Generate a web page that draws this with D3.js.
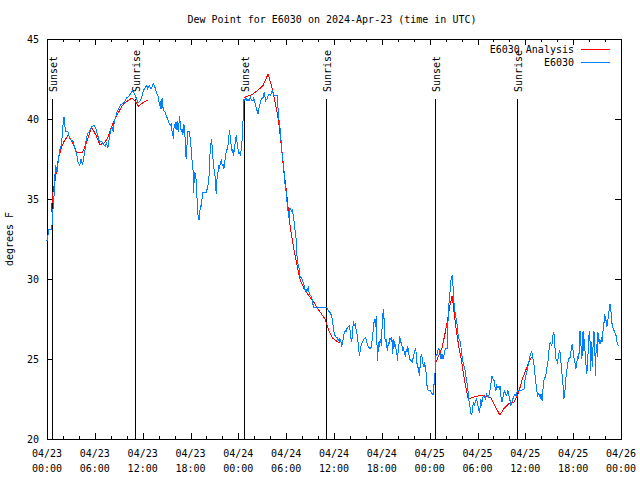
<!DOCTYPE html>
<html><head><meta charset="utf-8">
<script src="https://cdn.jsdelivr.net/npm/d3@7/dist/d3.min.js"></script>
<style>
body{margin:0;background:#fff}
svg text{font-family:"DejaVu Sans Mono","Liberation Mono",monospace;font-size:10px;fill:#000}
</style>
</head><body>
<svg id="chart" width="640" height="480"></svg>
<script>
const chartTitle = "Dew Point for E6030 on 2024-Apr-23 (time in UTC)";
const yAxisLabel = "degrees F";
const seriesNames = ["E6030 Analysis", "E6030"];
const startTime = "2024-04-23T00:00:00Z";
const spanHours = 72;
const yTicks = [20, 25, 30, 35, 40, 45];
const eventLabels = ["Sunset", "Sunrise", "Sunset", "Sunrise", "Sunset", "Sunrise"];
const eventHours = [0.66, 11.08, 24.75, 35.09, 48.71, 58.99];

// Observed dew point (hours since start, degrees F)
const obsHours = [0.0,0.25,0.59,0.76,0.88,1.0,1.09,1.26,1.43,1.6,1.8,1.93,2.06,2.14,2.22,2.35,2.64,2.85,3.27,3.52,3.69,3.9,4.11,4.28,4.45,4.62,4.78,4.95,5.12,5.29,5.58,5.88,6.13,6.3,6.55,6.84,7.05,7.3,7.47,7.64,7.8,7.97,8.14,8.31,8.43,8.6,8.81,9.06,9.27,9.57,9.78,9.99,10.24,10.49,10.74,10.95,11.16,11.41,11.66,11.91,
12.09,12.34,12.5,12.63,12.84,13.05,13.17,13.34,13.47,13.59,13.76,13.89,14.01,14.1,14.18,14.31,14.43,14.52,14.64,14.85,14.94,15.15,15.27,15.44,15.57,15.69,15.78,15.86,15.94,16.11,16.2,16.32,16.45,16.53,16.62,16.7,16.83,16.95,17.04,17.16,17.29,17.37,17.46,17.58,17.67,17.88,17.96,18.09,18.17,18.3,18.38,18.51,18.63,18.72,18.8,18.88,18.97,19.14,19.22,19.3,19.39,19.56,19.97,20.18,20.31,20.4,20.52,20.65,20.73,20.82,20.94,21.07,21.15,21.24,21.32,21.45,21.57,21.65,21.74,21.86,21.99,22.07,22.2,22.28,22.41,22.49,22.62,22.74,22.83,22.91,23.0,23.12,23.25,23.33,23.41,23.54,23.66,23.75,23.83,23.96,24.08,24.17,24.29,24.38,24.5,24.58,24.62,
24.8,24.92,25.09,25.22,25.34,25.51,25.64,25.85,25.93,26.06,26.18,26.35,26.48,26.6,26.77,26.9,27.11,27.23,27.32,27.44,27.61,27.74,27.86,28.03,28.16,28.28,28.37,28.49,28.7,28.87,28.99,29.08,29.21,29.29,29.42,29.5,29.62,29.75,29.83,29.96,30.04,30.17,30.25,30.38,30.46,30.59,30.67,30.8,30.88,31.01,31.09,31.22,31.3,31.39,31.51,31.64,31.72,31.85,31.97,32.14,32.27,32.39,32.48,32.56,32.69,32.77,32.9,33.07,33.19,33.32,33.4,35.08,35.29,
35.5,35.71,35.84,35.92,36.0,36.13,36.26,36.42,36.55,36.67,36.76,36.84,36.97,37.09,37.18,37.26,37.39,37.51,37.6,37.81,37.93,38.02,38.1,38.23,38.31,38.44,38.52,38.65,38.77,38.86,38.98,39.07,39.19,39.28,39.4,39.53,39.7,39.82,39.95,40.03,40.12,40.24,40.37,40.54,40.66,40.75,40.83,40.95,41.04,41.12,41.21,41.29,41.37,41.46,41.54,41.63,41.71,41.79,41.88,41.96,42.05,42.13,42.21,42.3,42.38,42.47,42.55,42.63,42.72,42.8,42.88,42.97,43.05,43.18,43.26,43.35,43.43,43.51,43.6,43.68,43.81,43.89,43.98,44.06,44.14,44.23,44.31,44.4,44.52,44.65,44.73,44.82,44.94,45.07,45.15,45.23,45.32,45.4,45.49,45.65,45.82,45.99,46.12,46.2,46.28,46.37,46.49,46.62,46.7,46.79,46.87,46.96,47.04,47.16,47.29,47.37,47.46,47.54,47.63,47.71,47.88,48.09,48.21,48.34,48.42,48.51,48.59,48.68,48.76,
48.8,48.89,49.01,49.14,49.26,49.35,49.43,49.56,49.68,49.77,49.89,50.02,50.19,50.27,50.4,50.52,50.65,50.73,50.82,50.9,50.99,51.07,51.15,51.24,51.36,51.45,51.53,51.66,51.78,51.87,51.95,52.08,52.2,52.29,52.41,52.5,52.62,52.71,52.79,52.87,52.96,53.04,53.13,53.21,53.33,53.42,53.55,53.63,53.75,53.88,53.96,54.05,54.17,54.26,54.34,54.43,54.51,54.59,54.68,54.8,54.93,55.01,55.14,55.22,55.35,55.43,55.56,55.64,55.73,55.81,55.89,55.98,56.06,56.15,56.23,56.31,56.4,56.48,56.57,56.65,56.73,56.82,56.9,56.99,57.07,57.15,57.24,57.32,57.41,57.53,57.66,57.74,57.82,57.95,58.08,58.16,58.24,58.37,58.5,58.58,58.71,58.83,58.92,59.0,59.42,
59.84,59.92,60.05,60.17,60.26,60.34,60.47,60.59,60.68,60.76,60.89,60.97,61.1,61.22,61.31,61.43,61.52,61.64,61.77,61.85,61.94,62.02,62.11,62.19,62.27,62.36,62.48,62.57,62.69,62.78,62.9,62.99,63.11,63.2,63.32,63.41,63.49,63.57,63.66,63.74,63.83,63.95,64.04,64.12,64.25,64.33,64.41,64.5,64.58,64.67,64.75,64.83,64.92,65.0,65.08,65.17,65.29,65.38,65.5,65.59,65.71,65.8,65.88,65.97,66.05,66.13,66.26,66.34,66.43,66.51,66.6,66.68,66.76,66.85,66.93,67.01,67.1,67.18,67.27,67.35,67.43,67.52,67.6,67.69,67.77,67.85,67.94,68.02,68.11,68.19,68.27,68.36,68.44,68.53,68.61,68.69,68.78,68.86,68.95,69.03,69.11,69.2,69.28,69.36,69.45,69.53,69.62,69.7,69.78,69.87,69.95,70.04,70.12,70.2,70.29,70.37,70.46,70.54,70.62,70.71,70.79,70.88,70.96,71.04,71.13,71.21,71.3,71.38,71.46,71.55,71.67,71.8];
const obsValues = [32.4,33.1,33.1,34.4,35.2,36.5,37.1,36.7,37.5,38.1,38.4,39.0,40.0,40.1,39.6,39.2,39.2,38.75,38.6,38.1,37.9,37.3,37.1,37.5,37.1,37.6,38.1,38.85,39.1,39.2,39.5,39.6,39.4,39.1,38.6,38.6,38.4,38.3,38.5,38.2,38.75,39.3,39.5,39.2,39.8,40.1,40.5,40.7,40.9,41.0,41.1,41.35,41.4,41.6,41.77,41.6,41.35,41.0,41.1,41.4,
41.77,42.0,42.1,41.9,42.1,41.9,42.0,42.2,42.1,41.9,41.6,41.5,41.3,40.8,41.1,40.6,41.3,40.8,40.5,40.4,40.2,40.0,39.8,39.6,39.7,39.2,39.0,38.75,39.5,39.8,39.3,39.9,39.2,39.5,40.2,39.8,39.2,39.4,39.0,39.7,39.2,38.1,37.5,38.5,39.2,39.2,38.75,38.1,37.5,37.1,35.4,36.7,36.5,36.1,35.2,34.6,33.75,33.75,34.6,34.4,34.8,35.4,35.4,35.8,36.25,37.5,38.3,38.75,38.1,37.5,36.9,36.5,35.7,35.3,36.25,36.7,37.1,36.9,37.3,37.4,37.1,37.2,36.9,37.3,37.6,38.1,38.1,38.5,39.0,39.3,38.75,38.3,37.9,38.1,37.7,38.3,38.75,39.0,38.6,38.1,37.8,37.9,37.7,38.3,38.75,39.6,41.25,
41.15,41.35,41.15,41.25,41.15,41.35,41.15,41.15,41.35,41.04,40.83,40.52,40.31,40.73,41.04,41.25,41.35,41.67,41.46,41.15,41.25,41.46,41.56,41.46,41.67,41.77,41.56,41.5,41.5,41.46,40.62,40.0,39.58,38.96,38.33,37.71,37.29,36.67,36.04,35.63,35.0,34.58,34.17,33.75,34.38,34.38,34.17,34.38,33.96,33.54,33.13,32.71,31.88,31.25,30.83,30.63,30.21,30.1,30.0,29.79,29.58,29.27,29.38,29.17,29.38,29.48,29.06,28.96,28.85,28.65,28.23,28.23,28.0,
27.9,27.7,27.3,26.88,26.67,26.46,26.35,26.35,26.15,26.25,26.04,26.25,25.73,26.15,26.25,26.56,26.77,26.67,26.88,27.04,27.08,26.77,26.35,26.04,26.67,27.35,27.08,27.19,26.88,26.67,26.25,25.73,25.21,25.52,25.83,26.04,26.21,26.29,26.35,26.25,26.04,25.83,25.73,25.63,25.73,26.04,26.46,26.88,27.4,27.5,26.98,27.7,26.25,24.9,25.63,26.04,25.73,26.25,26.04,25.83,27.29,27.81,28.13,27.29,26.25,26.15,26.25,25.73,25.52,26.04,25.83,26.25,26.29,26.15,26.35,25.31,25.83,26.25,25.73,25.94,25.52,25.31,24.9,25.63,25.83,26.46,26.25,26.04,25.83,25.52,25.73,25.31,25.21,25.63,25.42,25.83,25.63,25.31,25.0,24.9,24.83,25.21,25.42,25.63,25.52,24.79,24.58,24.27,23.96,24.48,25.0,25.31,25.1,24.69,24.48,24.69,24.58,24.17,23.54,23.13,23.02,23.02,22.88,22.81,22.75,23.13,23.75,24.17,24.9,
25.31,25.2,25.52,25.63,25.52,25.2,25.0,25.31,25.0,25.2,25.52,25.63,25.63,27.08,28.33,28.96,29.9,30.0,30.25,29.79,29.17,28.33,28.13,27.6,27.5,27.08,26.67,26.25,26.15,26.04,25.63,25.1,24.79,24.58,24.38,24.06,23.65,23.44,23.13,22.5,22.3,22.08,21.77,21.5,21.67,22.08,22.3,22.08,22.4,22.5,22.3,22.08,21.77,21.67,22.08,22.5,22.08,22.4,22.6,22.7,22.6,22.5,22.9,22.7,22.6,22.7,23.02,23.33,23.65,23.96,23.85,23.65,23.75,23.44,23.13,23.02,23.33,23.23,23.33,23.23,23.13,23.33,22.81,22.5,22.3,22.5,22.7,22.9,23.02,22.81,22.7,22.9,23.02,22.7,22.4,22.08,22.19,22.4,22.6,22.7,22.81,22.7,22.81,23.02,23.02,
23.13,23.54,23.96,24.17,24.38,24.58,24.9,25.21,25.31,25.42,25.31,25.0,24.58,23.96,23.54,23.13,22.7,22.81,22.7,22.81,22.6,22.7,22.4,22.92,23.44,23.75,23.85,23.96,24.38,24.69,25.0,25.73,26.04,25.94,25.83,26.25,26.56,26.67,26.25,25.52,25.0,24.9,24.79,25.1,25.42,25.52,25.21,24.58,24.17,23.65,23.23,22.5,22.81,23.13,23.75,24.17,24.58,24.9,25.1,25.0,25.42,25.73,25.94,25.63,25.21,25.0,24.69,24.38,24.69,25.0,25.21,25.0,25.52,26.77,26.25,25.63,25.0,26.46,26.77,25.52,26.25,25.0,24.69,24.06,24.38,25.21,26.15,26.77,26.15,24.27,26.04,24.9,24.48,26.77,25.73,26.67,23.96,25.31,25.94,25.1,26.67,26.04,26.25,25.94,25.94,26.35,26.04,26.46,26.98,27.29,27.81,27.5,27.4,26.98,27.19,27.5,27.81,28.23,28.44,28.23,27.6,27.19,26.98,26.88,26.77,26.77,26.46,26.46,26.15,25.94,25.83,25.83];

// Analysis (hours since start, degrees F); null marks a gap
const anaHours = [0.54,0.76,0.97,1.22,1.51,1.8,2.14,2.68,3.21,3.74,4.44,4.87,5.58,6.13,6.63,7.18,7.59,8.02,8.43,8.85,9.28,9.69,10.32,10.66,11.08,11.46,12.0,12.63,
18.0,
24.71,25.05,25.84,26.69,27.1,27.73,28.03,28.29,28.57,28.86,29.12,29.29,29.49,29.71,29.96,30.25,30.55,30.88,31.31,31.72,32.23,32.77,33.4,34.03,34.45,34.87,35.08,35.28,35.5,35.84,36.25,36.67,
42.0,
48.8,49.13,49.56,49.97,50.26,50.52,50.82,51.02,51.36,51.65,51.95,52.28,52.58,52.83,53.37,54.17,54.8,55.64,56.14,56.81,57.32,57.94,58.57,59.0,59.32,59.63,60.05,60.46,60.76];
const anaValues = [34.2,35.5,36.0,36.9,37.7,38.2,38.6,39.0,38.5,37.9,37.9,38.4,39.5,39.0,38.4,38.5,38.8,39.4,39.9,40.3,40.7,41.0,41.2,41.3,41.1,40.8,41.0,41.2,
null,
41.3,41.4,41.56,41.9,42.1,42.8,42.3,41.8,41.15,40.4,39.6,38.75,37.9,36.7,35.8,34.4,33.1,32.1,31.0,30.0,29.4,29.0,28.6,28.1,27.8,27.5,27.2,26.9,26.6,26.3,26.15,26.0,
null,
24.8,25.2,25.7,26.7,27.5,28.3,28.95,28.1,26.7,25.8,25.0,23.96,23.1,22.5,22.6,22.7,22.7,22.6,22.1,21.5,21.9,22.2,22.3,22.7,23.2,23.75,24.3,24.8,25.1];

const seriesColors = ["#ff0000", "#0080ff"];

const svg = d3.select("#chart");
const L = 47, R = 621, T = 39, B = 439;
const t0 = new Date(startTime);
const toDate = h => new Date(t0.getTime() + h * 3600e3);
const x = d3.scaleUtc().domain([t0, toDate(spanHours)]).range([L, R]);
const y = d3.scaleLinear().domain([20, 45]).range([B, T]);

// Title
svg.append("text").attr("x", 332).attr("y", 23).attr("text-anchor", "middle").text(chartTitle);
// Y label
svg.append("text").attr("transform", "translate(13,239) rotate(-90)").attr("text-anchor", "middle").text(yAxisLabel);

const fmtDay = d3.utcFormat("%m/%d"), fmtTime = d3.utcFormat("%H:%M");
const majorTicks = d3.utcHour.every(6).range(t0, toDate(spanHours + 0.1));
const minorTicks = d3.utcHour.every(2).range(t0, toDate(spanHours + 0.1));

svg.append("g").attr("transform", `translate(0,${B})`)
  .call(d3.axisBottom(x).tickValues(majorTicks).tickSize(-6).tickSizeOuter(0).tickFormat(""));
svg.append("g").attr("transform", `translate(0,${B})`)
  .call(d3.axisBottom(x).tickValues(minorTicks).tickSize(-3).tickSizeOuter(0).tickFormat(""));
svg.append("g").attr("transform", `translate(0,${T})`)
  .call(d3.axisTop(x).tickValues(majorTicks).tickSize(-6).tickSizeOuter(0).tickFormat(""));
svg.append("g").attr("transform", `translate(0,${T})`)
  .call(d3.axisTop(x).tickValues(minorTicks).tickSize(-3).tickSizeOuter(0).tickFormat(""));
svg.append("g").attr("transform", `translate(${L},0)`)
  .call(d3.axisLeft(y).tickValues(yTicks).tickSize(-6).tickSizeOuter(0).tickPadding(8));
svg.append("g").attr("transform", `translate(${R},0)`)
  .call(d3.axisRight(y).tickValues(yTicks).tickSize(-6).tickSizeOuter(0).tickFormat(""));
svg.selectAll(".domain").remove();
svg.selectAll(".tick line").attr("stroke", "#000").attr("shape-rendering", "crispEdges");

const lbl = svg.append("g");
majorTicks.forEach(d => {
  const t = lbl.append("text").attr("text-anchor", "middle");
  t.append("tspan").attr("x", x(d)).attr("y", 457).text(fmtDay(d));
  t.append("tspan").attr("x", x(d)).attr("y", 472).text(fmtTime(d));
});

// border
svg.append("rect").attr("x", L + 0.5).attr("y", T + 0.5).attr("width", R - L).attr("height", B - T)
  .attr("fill", "none").attr("stroke", "#000").attr("shape-rendering", "crispEdges");

// sun events
eventHours.forEach((h, i) => {
  const ex = x(toDate(h));
  svg.append("line").attr("x1", ex).attr("x2", ex).attr("y1", 99).attr("y2", B)
    .attr("stroke", "#000").attr("shape-rendering", "crispEdges");
  svg.append("text").attr("transform", `translate(${ex + 4.5},92) rotate(-90)`).attr("text-anchor", "start").text(eventLabels[i]);
});

// data lines
const ana = anaHours.map((h, i) => ({ d: toDate(h), v: anaValues[i] }));
const obs = obsHours.map((h, i) => ({ d: toDate(h), v: obsValues[i] }));
const line = d3.line().defined(p => p.v !== null).x(p => x(p.d)).y(p => y(p.v));
svg.append("path").datum(ana).attr("d", line).attr("fill", "none").attr("stroke", seriesColors[0]).attr("stroke-width", 1).attr("shape-rendering", "crispEdges");
svg.append("path").datum(obs).attr("d", line).attr("fill", "none").attr("stroke", seriesColors[1]).attr("stroke-width", 1).attr("shape-rendering", "crispEdges");

// legend
seriesNames.forEach((name, i) => {
  const ly = 49.5 + i * 13;
  svg.append("text").attr("x", 574).attr("y", ly + 3.5).attr("text-anchor", "end").text(name);
  svg.append("line").attr("x1", 581).attr("x2", 610).attr("y1", ly).attr("y2", ly)
    .attr("stroke", seriesColors[i]).attr("shape-rendering", "crispEdges");
});
</script>
</body></html>
